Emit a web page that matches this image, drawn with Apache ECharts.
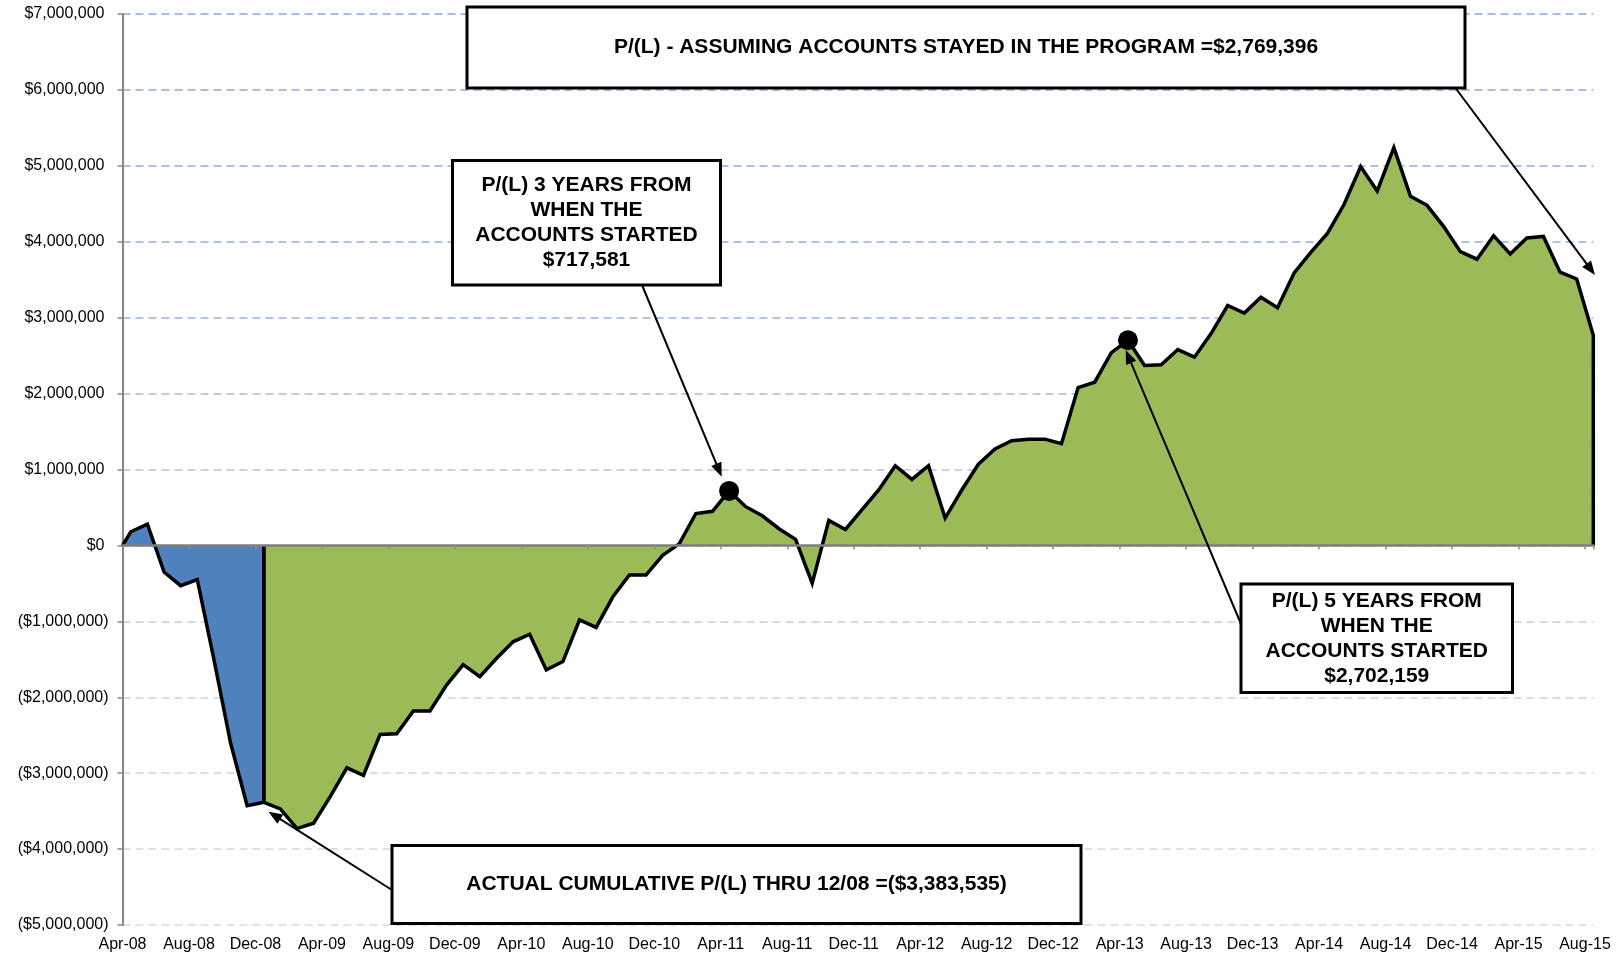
<!DOCTYPE html>
<html>
<head>
<meta charset="utf-8">
<script src="https://cdn.jsdelivr.net/npm/echarts@6/dist/echarts.min.js"></script>
<style>
html,body{margin:0;padding:0;background:#ffffff;}
#chart{width:1621px;height:958px;}
</style>
</head>
<body>
<div id="chart"></div>
<script>
// ---------------- DATA ----------------
const months = [
  'Apr-08','May-08','Jun-08','Jul-08','Aug-08','Sep-08','Oct-08','Nov-08','Dec-08',
  'Jan-09','Feb-09','Mar-09','Apr-09','May-09','Jun-09','Jul-09','Aug-09','Sep-09','Oct-09','Nov-09','Dec-09',
  'Jan-10','Feb-10','Mar-10','Apr-10','May-10','Jun-10','Jul-10','Aug-10','Sep-10','Oct-10','Nov-10','Dec-10',
  'Jan-11','Feb-11','Mar-11','Apr-11','May-11','Jun-11','Jul-11','Aug-11','Sep-11','Oct-11','Nov-11','Dec-11',
  'Jan-12','Feb-12','Mar-12','Apr-12','May-12','Jun-12','Jul-12','Aug-12','Sep-12','Oct-12','Nov-12','Dec-12',
  'Jan-13','Feb-13','Mar-13','Apr-13','May-13','Jun-13','Jul-13','Aug-13','Sep-13','Oct-13','Nov-13','Dec-13',
  'Jan-14','Feb-14','Mar-14','Apr-14','May-14','Jun-14','Jul-14','Aug-14','Sep-14','Oct-14','Nov-14','Dec-14',
  'Jan-15','Feb-15','Mar-15','Apr-15','May-15','Jun-15','Jul-15','Aug-15'
];
// cumulative P/(L) at the start of the program
const startValue = 0;
// cumulative P/(L), one value per month
const values = [
  180000, 280000, -350000, -530000, -450000, -1500000, -2600000, -3430000, -3383535,
  -3470000, -3730000, -3660000, -3310000, -2930000, -3030000, -2490000, -2480000, -2180000, -2180000, -1840000, -1570000,
  -1730000, -1490000, -1270000, -1170000, -1640000, -1530000, -980000, -1080000, -680000, -390000, -390000, -130000,
  20000, 420000, 450000, 717581, 510000, 390000, 220000, 80000, -500000, 330000, 210000, 470000,
  730000, 1050000, 870000, 1050000, 360000, 730000, 1070000, 1270000, 1380000, 1400000, 1400000, 1340000,
  2080000, 2150000, 2540000, 2702159, 2370000, 2380000, 2580000, 2480000, 2790000, 3160000, 3060000, 3270000,
  3130000, 3590000, 3860000, 4110000, 4490000, 4990000, 4670000, 5240000, 4600000, 4480000, 4200000, 3870000,
  3770000, 4080000, 3840000, 4050000, 4070000, 3600000, 3510000, 2769396
];
const actualThrough = 'Dec-08';          // actual results end here (blue), afterwards green
const milestones = ['Apr-11', 'Apr-13']; // 3 and 5 years after start (black dots)
const yMin = -5000000, yMax = 7000000, yStep = 1000000;
const xStep = 4; // a tick label every 4 months

// ---------------- BUILD ----------------
const FONT = '"Liberation Sans", Arial, Helvetica, sans-serif';
const pos = i => i + 0.5;               // monthly values sit mid-month on the month scale
const split = months.indexOf(actualThrough);
const last = values.length - 1;

const blueData = [[0, startValue]]
  .concat(values.slice(0, split + 1).map((v, i) => [pos(i), v]))
  .concat([[pos(split), 0]]);
const greenData = [[pos(split), 0]]
  .concat(values.slice(split).map((v, j) => [pos(split + j), v]))
  .concat([[pos(last), 0]]);
const dotData = milestones.map(m => { const i = months.indexOf(m); return [pos(i), values[i]]; });

function commas(n) { return String(Math.round(n)).replace(/\B(?=(\d{3})+(?!\d))/g, ','); }
function money(v) {
  if (v === 0) return '{p|$0}';
  if (v > 0) return '{p|$' + commas(v) + '}';
  return '{n|($' + commas(-v) + ')}';
}

const gridColors = ['#DCE3F2','#DAE2F2','#D7DFF1','#D4DDF0','#D0DAF0','#CCD7EF','#C6D3EE',
                    '#BDCCEC','#B3C6EA','#AEC2E9','#AAC0E9','#A8BEE8','#A6BDE8'];

const chart = echarts.init(document.getElementById('chart'), null, {renderer: 'canvas'});

const xMax = pos(last);

const option = {
  backgroundColor: '#ffffff',
  animation: false,
  grid: { left: 122.5, right: 27.7, top: 14, bottom: 33, containLabel: false, outerBoundsMode: 'none' },
  xAxis: [
    {
      type: 'value', min: 0, max: xMax, interval: xStep, position: 'bottom',
      axisLine: { show: false, onZero: false },
      axisTick: { show: false },
      splitLine: { show: false },
      axisLabel: {
        margin: 12, color: '#000', fontSize: 16, fontFamily: FONT,
        formatter: v => (Number.isInteger(v) && v % xStep === 0 && months[v]) ? months[v] : '',
        showMaxLabel: false
      }
    },
    {
      type: 'value', min: 0, max: xMax, interval: xStep, position: 'bottom', z: 10,
      axisLine: { show: true, onZero: true, lineStyle: { color: '#7F7F7F', width: 2.5 } },
      axisTick: { show: true, length: 4, lineStyle: { color: '#8C8C8C', width: 1.5 } },
      axisLabel: { show: false },
      splitLine: { show: false }
    }
  ],
  yAxis: {
    type: 'value', min: yMin, max: yMax, interval: yStep,
    axisLine: { show: true, onZero: false, lineStyle: { color: '#868686', width: 2 } },
    axisTick: { show: true, length: 5, lineStyle: { color: '#868686', width: 1.5 } },
    axisLabel: {
      margin: 14, formatter: money,
      rich: {
        p: { fontSize: 16, fontFamily: FONT, color: '#000', padding: [0, 4, 0, 0] },
        n: { fontSize: 16, fontFamily: FONT, color: '#000' }
      }
    },
    splitLine: { show: true, lineStyle: { color: gridColors, width: 2, type: [8, 5] } }
  },
  series: [
    {
      name: 'Actual', type: 'line', xAxisIndex: 0, data: blueData, symbol: 'none',
      lineStyle: { color: '#000', width: 3.5, join: 'miter' },
      areaStyle: { color: '#4F81BD', opacity: 1 }, z: 2
    },
    {
      name: 'Assumed', type: 'line', xAxisIndex: 0, data: greenData, symbol: 'none',
      lineStyle: { color: '#000', width: 3.5, join: 'miter' },
      areaStyle: { color: '#9BBB59', opacity: 1 }, z: 2
    },
    {
      name: 'Milestones', type: 'scatter', xAxisIndex: 0, data: dotData,
      symbol: 'circle', symbolSize: 20, itemStyle: { color: '#000', opacity: 1 }, z: 4
    }
  ]
};
chart.setOption(option);

// ---------------- ANNOTATIONS ----------------
function box(x, y, w, h, text) {
  return [
    { type: 'rect', z: 100, shape: { x: x, y: y, width: w, height: h },
      style: { fill: '#ffffff', stroke: '#000000', lineWidth: 3 } },
    { type: 'text', z: 101, x: x + w / 2, y: y + h / 2,
      style: { text: text, align: 'center', verticalAlign: 'middle', fill: '#000',
               fontSize: 21, fontWeight: 'bold', fontFamily: FONT, lineHeight: 25 } }
  ];
}
function arrow(sx, sy, tx, ty) {
  const dx = tx - sx, dy = ty - sy, len = Math.sqrt(dx * dx + dy * dy);
  const ux = dx / len, uy = dy / len, L = 14, W = 5.5;
  const bx = tx - ux * L, by = ty - uy * L;
  const nx = -uy, ny = ux;
  return [
    { type: 'line', z: 99, shape: { x1: sx, y1: sy, x2: bx + ux * 2, y2: by + uy * 2 },
      style: { stroke: '#000', lineWidth: 2 } },
    { type: 'polygon', z: 99, shape: { points: [[tx, ty], [bx + nx * W, by + ny * W], [bx - nx * W, by - ny * W]] },
      style: { fill: '#000' } }
  ];
}
const graphics = []
  .concat(arrow(1455.5, 88, 1595, 275))
  .concat(arrow(642, 285, 721.7, 476.7))
  .concat(arrow(1241, 624, 1125.7, 350))
  .concat(arrow(392, 890, 268.5, 811.7))
  .concat(box(467, 7, 998, 81, 'P/(L) - ASSUMING ACCOUNTS STAYED IN THE PROGRAM =$2,769,396'))
  .concat(box(452.5, 160.5, 268, 124.5, 'P/(L) 3 YEARS FROM\nWHEN THE\nACCOUNTS STARTED\n$717,581'))
  .concat(box(1241, 584, 271.5, 108.5, 'P/(L) 5 YEARS FROM\nWHEN THE\nACCOUNTS STARTED\n$2,702,159'))
  .concat(box(392, 845.5, 689, 78, 'ACTUAL CUMULATIVE P/(L) THRU 12/08 =($3,383,535)'));
chart.setOption({ graphic: { elements: graphics } });
</script>
</body>
</html>
